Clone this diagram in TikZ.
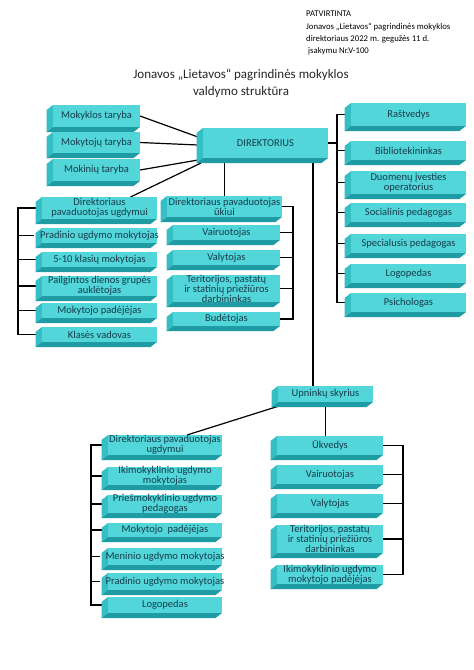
\documentclass[tikz,border=0pt]{standalone}
\usepackage{fontspec}
\setmainfont{Carlito}
\usetikzlibrary{calc}
\definecolor{facec}{HTML}{52D6DA}
\definecolor{leftc}{HTML}{36BEC5}
\definecolor{botc}{HTML}{1F9BA3}
\definecolor{txtc}{HTML}{163C4A}
\pgfdeclarelayer{bg}
\pgfdeclarelayer{lines}
\pgfsetlayers{bg,lines,main}
\tikzset{
  boxtext/.style={inner sep=0pt, outer sep=0pt, align=center, text=txtc, font=\fontsize{10.5}{10}\selectfont},
  conn/.style={draw=black, line width=1.2pt},
}
\newcommand\bx[6]{%
  \fill[leftc] (#2,#3) -- ({#2-6.5},{#3+5}) -- ({#2-6.5},{#5+5}) -- (#2,#5) -- cycle;
  \fill[botc] (#2,#5) -- (#4,#5) -- ({#4-6.5},{#5+5}) -- ({#2-6.5},{#5+5}) -- cycle;
  \fill[facec] (#2,#3) rectangle (#4,#5);
  \pgfmathsetmacro\bw{#4-#2}\pgfmathsetmacro\bh{#5-#3}%
  \node[boxtext, minimum width=\bw pt, minimum height=\bh pt] (#1) at ({(#2+#4)/2},{(#3+#5)/2}) {#6};
}
\begin{document}
\begin{tikzpicture}[x=1pt,y=-1pt]
\begin{pgfonlayer}{bg}
\fill[white] (0,0) rectangle (474,670);
\end{pgfonlayer}
\useasboundingbox (0,0) rectangle (474,670);

\node[anchor=north west, align=left, inner sep=0pt, font=\fontsize{8.7}{12.4}\selectfont] (note) at (306,11)
 {PATVIRTINTA\\Jonavos „Lietavos“ pagrindinės mokyklos\\direktoriaus 2022 m. gegužės 11 d.\\\hspace{2pt}įsakymu Nr.V-100};
\node[align=center, inner sep=0pt, font=\fontsize{13}{17}\selectfont, text=black!85] (title) at (241,83)
 {Jonavos „Lietavos“ pagrindinės mokyklos\\valdymo struktūra};

% boards + director
\bx{mk}{53}{105}{140}{127}{Mokyklos taryba}
\bx{mt}{53}{132}{140}{153}{Mokytojų taryba}
\bx{mn}{53}{159}{140}{181}{Mokinių taryba}
\bx{dir}{203}{128}{328}{158}{DIREKTORIUS}

% right column
\bx{r1}{351}{103}{466}{126}{Raštvedys}
\bx{r2}{351}{141}{466}{160}{Bibliotekininkas}
\bx{r3}{351}{171}{466}{194}{Duomenų įvesties\\operatorius}
\bx{r4}{351}{203}{466}{222}{Socialinis pedagogas}
\bx{r5}{351}{234}{466}{253}{Specialusis pedagogas}
\bx{r6}{351}{264}{466}{283}{Logopedas}
\bx{r7}{351}{293}{466}{312}{Psichologas}

% left column
\bx{l1}{42}{197}{157}{219}{Direktoriaus\\pavaduotojas ugdymui}
\bx{l2}{42}{228}{157}{243}{Pradinio ugdymo mokytojas}
\bx{l3}{42}{252}{157}{267}{5-10 klasių mokytojas}
\bx{l4}{42}{276}{157}{296}{Pailgintos dienos grupės\\auklėtojas}
\bx{l5}{42}{303}{157}{318}{Mokytojo padėjėjas}
\bx{l6}{42}{327}{157}{342}{Klasės vadovas}

% middle column
\bx{m1}{167}{196}{282}{217}{Direktoriaus pavaduotojas\\ūkiui}
\bx{m2}{173}{225}{280}{240}{Vairuotojas}
\bx{m3}{173}{250}{280}{265}{Valytojas}
\bx{m4}{173}{275}{280}{302}{Teritorijos, pastatų\\ir statinių priežiūros\\darbininkas}
\bx{m5}{173}{312}{280}{326}{Budėtojas}

% Upninkai
\bx{upn}{278}{386}{373}{402}{Upninkų skyrius}

\bx{u1}{277}{436}{383}{455}{Ūkvedys}
\bx{u2}{277}{465}{383}{484}{Vairuotojas}
\bx{u3}{277}{494}{383}{513}{Valytojas}
\bx{u4}{277}{525}{383}{553}{Teritorijos, pastatų\\ir statinių priežiūros\\darbininkas}
\bx{u5}{277}{565}{383}{584}{Ikimokyklinio ugdymo\\mokytojo padėjėjas}

\bx{b1}{108}{435}{222}{455}{Direktoriaus pavaduotojas\\ugdymui}
\bx{b2}{108}{467}{222}{485}{Ikimokyklinio ugdymo\\mokytojas}
\bx{b3}{108}{495}{222}{513}{Priešmokyklinio ugdymo\\pedagogas}
\bx{b4}{108}{523}{222}{537}{Mokytojo\ \ padėjėjas}
\bx{b5}{108}{548}{222}{565}{Meninio ugdymo mokytojas}
\bx{b6}{108}{573}{222}{590}{Pradinio ugdymo mokytojas}
\bx{b7}{108}{597}{222}{613}{Logopedas}

% junction coordinates
\coordinate (rbr) at (337,143);
\coordinate (lbr) at (18,208);
\coordinate (mbr) at (293,207);
\coordinate (dv) at (313,160);
\coordinate (ubr) at (403,445);
\coordinate (bbr) at (91,445);

\begin{pgfonlayer}{lines}
% boards to director
\draw[conn] (mk.east) -- ($(dir.north west)+(-5,9)$);
\draw[conn] (mt.east) -- ($(dir.west)+(-5,2)$);
\draw[conn] (mn.east) -- ($(dir.south west)+(-5,2)$);
\draw[conn] ($(dir.south west)+(-2,5)$) -- ([xshift=31pt]l1.north);
% right column
\draw[conn] (dir.east) -- (rbr);
\draw[conn] ([xshift=-6pt]r1.west) -| (rbr) |- ([xshift=-6pt]r7.west);
\foreach \n in {r2,r3,r4,r5,r6} \draw[conn] ([xshift=-6pt]\n.west) -- (\n.west -| rbr);
% left column
\draw[conn] ([xshift=-6pt]l1.west) -| (lbr) |- ([xshift=-6pt]l6.west);
\foreach \n in {l2,l3,l4,l5} \draw[conn] ([xshift=-6pt]\n.west) -- (\n.west -| lbr);
% middle column
\draw[conn] (m1.north) -- (m1.north |- dir.south);
\draw[conn] (m1.east) -| (mbr) |- (m5.east);
\foreach \n in {m2,m3,m4} \draw[conn] (\n.east) -- (\n.east -| mbr);
% to Upninkai
\draw[conn] (dv |- dir.south) -- (dv |- upn.north);
\draw[conn] ($(upn.south west)+(1,4)$) -- ([xshift=22pt]b1.north);
\draw[conn] (upn.south) -- (upn.south |- u1.north);
% Upninkai right
\draw[conn] (u1.east) -| (ubr) |- (u5.east);
\foreach \n in {u2,u3,u4} \draw[conn] (\n.east) -- (\n.east -| ubr);
% Upninkai left
\draw[conn] ([xshift=-6pt]b1.west) -| (bbr) |- ([xshift=-6pt]b7.west);
\foreach \n in {b2,b3,b4,b5,b6} \draw[conn] ([xshift=-6pt]\n.west) -- (\n.west -| bbr);
\end{pgfonlayer}
\end{tikzpicture}
\end{document}
